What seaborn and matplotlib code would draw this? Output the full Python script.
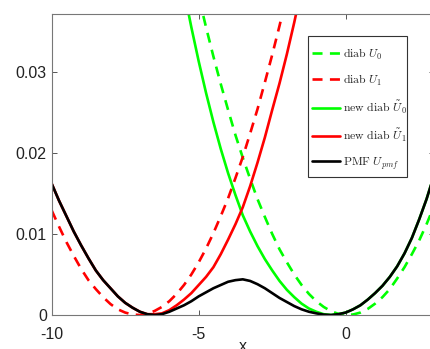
import numpy as np
import pandas as pd
import matplotlib
matplotlib.use("Agg")
import matplotlib.pyplot as plt
from matplotlib.patches import Rectangle
import seaborn as sns

nan = np.nan

# reaction coordinate samples
x_grid = [-10.0, -9.75, -9.5, -9.25, -9.0, -8.75, -8.5, -8.25, -8.0, -7.75, -7.5,
          -7.25, -7.0, -6.75, -6.5, -6.25, -6.0, -5.75, -5.5, -5.25, -5.0, -4.75,
          -4.5, -4.25, -4.0, -3.75, -3.5, -3.25, -3.0, -2.75, -2.5, -2.25, -2.0,
          -1.75, -1.5, -1.25, -1.0, -0.75, -0.5, -0.25, 0.0, 0.25, 0.5, 0.75,
          1.0, 1.25, 1.5, 1.75, 2.0, 2.25, 2.5, 2.75, 3.0]

# diabatic U0
u0 = [nan] * 19 + [
    0.0433, 0.0393, 0.0355, 0.0319, 0.0285, 0.0253, 0.0222, 0.0194, 0.0168,
    0.0143, 0.0121, 0.0100, 0.0081, 0.0065, 0.0050, 0.0037, 0.0026, 0.0017,
    0.0010, 0.00047, 0.00014, 0.0, 0.00006, 0.0003, 0.00075, 0.0014, 0.0022,
    0.0032, 0.0045, 0.0059, 0.0075, 0.0092, 0.0112, 0.0134]

# diabatic U1
u1 = [0.0129, 0.0109, 0.0090, 0.0073, 0.0057, 0.0043, 0.0032, 0.0022, 0.00135,
      0.0007, 0.0003, 0.00006, 0.0, 0.00014, 0.0005, 0.0010, 0.0017, 0.0026,
      0.0037, 0.0050, 0.0065, 0.0082, 0.0101, 0.0122, 0.0144, 0.0169, 0.0195,
      0.0224, 0.0254, 0.0287, 0.0321, 0.0357, 0.0395] + [nan] * 20

# new diabatic U0
nu0 = [nan] * 18 + [
    0.0400, 0.0355, 0.0313, 0.0274, 0.0238, 0.0205, 0.0175, 0.0148, 0.0123,
    0.0103, 0.0085, 0.0069, 0.0055, 0.0042, 0.0031, 0.0022, 0.0014, 0.0008,
    0.0004, 0.0001, 0.0, 0.0001, 0.0003, 0.0007, 0.0012, 0.0019, 0.0027,
    0.0036, 0.0047, 0.0060, 0.0076, 0.0095, 0.0118, 0.0143, 0.0172]

# new diabatic U1
nu1 = [0.0162, 0.0141, 0.0122, 0.0103, 0.0086, 0.0070, 0.0055, 0.0043, 0.0033,
       0.0023, 0.0015, 0.0009, 0.0004, 0.0001, 0.0001, 0.0002, 0.0006, 0.0012,
       0.0019, 0.0027, 0.0037, 0.0047, 0.0059, 0.0075, 0.0093, 0.0112, 0.0133,
       0.0159, 0.0188, 0.0219, 0.0253, 0.0286, 0.0322, 0.0361, 0.0403] + [nan] * 18

# potential of mean force
u_pmf = [0.0162, 0.0141, 0.0122, 0.0103, 0.0086, 0.0070, 0.0055, 0.0043, 0.0033,
         0.0023, 0.0015, 0.0009, 0.0004, 0.0001, 0.0, 0.0001, 0.0004, 0.0008,
         0.0012, 0.0017, 0.0023, 0.0028, 0.0033, 0.0037, 0.0041, 0.0043, 0.0044,
         0.0042, 0.0038, 0.0033, 0.0027, 0.0021, 0.0016, 0.0011, 0.0007, 0.0004,
         0.0002, 0.00005, 0.0, 0.0001, 0.0003, 0.0007, 0.0012, 0.0019, 0.0027,
         0.0036, 0.0047, 0.0060, 0.0076, 0.0095, 0.0118, 0.0143, 0.0172]

labels = [r"$\mathrm{diab}\ U_0$", r"$\mathrm{diab}\ U_1$",
          r"$\mathrm{new\ diab}\ \tilde{U}_0$", r"$\mathrm{new\ diab}\ \tilde{U}_1$",
          r"$\mathrm{PMF}\ U_{pmf}$"]

sns.set_theme(style="white")
plt.rcParams["font.family"] = ["Liberation Sans", "DejaVu Sans"]
plt.rcParams["mathtext.fontset"] = "cm"

fig = plt.figure(figsize=(4.31, 3.49), dpi=100)
W, H = 431.0, 349.0
x0, x1, y0, y1 = 51.7, 433.9, 14.3, 315.0
ax = fig.add_axes([x0 / W, 1 - y1 / H, (x1 - x0) / W, (y1 - y0) / H])

series = [
    (u0, "#00ff00", (3.8, 2.8)),
    (u1, "#ff0000", (3.8, 2.8)),
    (nu0, "#00ff00", None),
    (nu1, "#ff0000", None),
    (u_pmf, "#000000", None),
]
for (ys, col, dash), lab in zip(series, labels):
    df = pd.DataFrame({"x": x_grid, "U": ys}).dropna()
    sns.lineplot(data=df, x="x", y="U", ax=ax, color=col, lw=1.9,
                 label=lab, sort=False)
    if dash is not None:
        ax.lines[-1].set_dashes(dash)

ax.set_xlim(-10, 3)
ax.set_ylim(0, 0.0371)
ax.set_xticks([-10, -5, 0])
ax.set_xticklabels(["-10", "-5", "0"])
ax.set_yticks([0, 0.01, 0.02, 0.03])
ax.set_yticklabels(["0", "0.01", "0.02", "0.03"])
ax.tick_params(direction="in", length=3.5, width=0.7, color="#555555",
               labelsize=11.5, labelcolor="#222222", top=True, right=True,
               bottom=True, left=True)
ax.tick_params(axis="x", pad=8.5)
ax.tick_params(axis="y", pad=3.5)
for sp in ax.spines.values():
    sp.set_color("#777777")
    sp.set_linewidth(0.8)
ax.set_xlabel("x", fontsize=11.5, color="#222222")
ax.xaxis.set_label_coords(0.5, -0.08)
ax.set_ylabel("")

# legend box drawn as its own frame, entries placed inside it
frame = Rectangle((308 / W, 1 - 177 / H), 99 / W, 141 / H,
                  transform=fig.transFigure, facecolor="white",
                  edgecolor="#333333", linewidth=0.8, zorder=4.5)
ax.add_artist(frame)
leg = ax.legend(loc="upper left", bbox_to_anchor=((312 - x0) / (x1 - x0),
                                                   (y1 - 46.5) / (y1 - y0)),
                borderaxespad=0, fontsize=8.5, frameon=False,
                handlelength=2.4, handletextpad=0.25,
                labelspacing=0.94, borderpad=0)
leg.set_zorder(5)

fig.savefig("out.png", dpi=100)
